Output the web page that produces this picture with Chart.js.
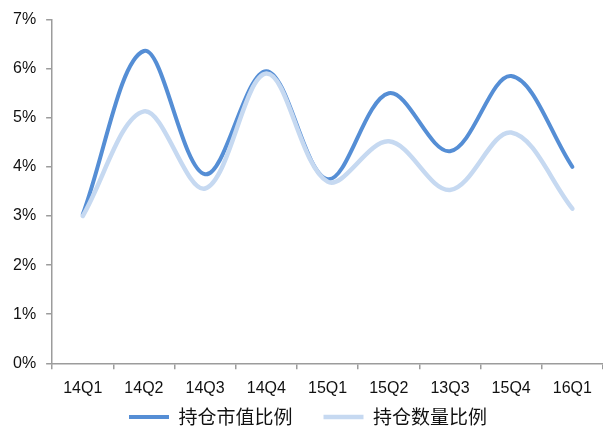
<!DOCTYPE html>
<html>
<head>
<meta charset="utf-8">
<script src="https://cdn.jsdelivr.net/npm/chart.js@4.4.1/dist/chart.umd.min.js"></script>
<style>
  html, body { margin: 0; padding: 0; background: #ffffff; }
  #wrap { width: 603px; height: 430px; position: relative; }
</style>
</head>
<body>
<div id="wrap"><canvas id="c" width="603" height="430"></canvas></div>
<script>
// Quarterly position ratios (%)
const quarters = ['14Q1', '14Q2', '14Q3', '14Q4', '15Q1', '15Q2', '13Q3', '15Q4', '16Q1'];
const marketValueRatio = [3.03, 6.36, 3.85, 5.95, 3.75, 5.50, 4.32, 5.85, 4.00];
const quantityRatio    = [3.00, 5.13, 3.56, 5.90, 3.70, 4.52, 3.53, 4.70, 3.15];
const seriesNames = ['持仓市值比例', '持仓数量比例'];
const yTicks = [0, 1, 2, 3, 4, 5, 6, 7];

const darkBlue = '#558ED5';
const lightBlue = '#C6D9F1';
const axisGrey = '#9C9C9C';

// The legend keeps wide spacing between its two entries; this moves the
// finished legend box up under the axis labels and a little to the right.
const legendNudge = {
  id: 'legendNudge',
  afterLayout(chart) {
    const lg = chart.legend;
    if (!lg) return;
    lg.top -= 32; lg.bottom -= 32;
    lg.left += 5; lg.right += 5;
  }
};

new Chart(document.getElementById('c'), {
  type: 'line',
  data: {
    labels: quarters,
    datasets: [
      {
        label: seriesNames[0],
        data: marketValueRatio,
        borderColor: darkBlue,
        backgroundColor: darkBlue,
        borderWidth: 4,
        pointRadius: 0,
        tension: 0.35,
        borderCapStyle: 'round',
        order: 1
      },
      {
        label: seriesNames[1],
        data: quantityRatio,
        borderColor: lightBlue,
        backgroundColor: lightBlue,
        borderWidth: 4.5,
        pointRadius: 0,
        tension: 0.35,
        borderCapStyle: 'round',
        order: 0
      }
    ]
  },
  plugins: [legendNudge],
  options: {
    responsive: false,
    animation: false,
    layout: { padding: { top: 15.5, left: 3, right: 0, bottom: -38.5 } },
    plugins: {
      tooltip: { enabled: false },
      legend: {
        position: 'bottom',
        labels: {
          boxWidth: 40,
          boxHeight: 0,
          padding: 31,
          color: '#111',
          font: { family: '"Noto Sans CJK SC"', size: 19 },
          sort: (a, b) => a.datasetIndex - b.datasetIndex
        }
      }
    },
    scales: {
      x: {
        offset: true,
        grid: {
          offset: true,
          drawOnChartArea: false,
          tickLength: 6,
          color: axisGrey,
          lineWidth: 1.5
        },
        border: { color: axisGrey, width: 1.5 },
        ticks: {
          color: '#111',
          padding: 10,
          maxRotation: 0,
          autoSkip: false,
          font: { family: '"Liberation Sans", Arial, sans-serif', size: 16 }
        }
      },
      y: {
        min: 0,
        max: 7,
        afterBuildTicks: (axis) => { axis.ticks = yTicks.map(v => ({ value: v })); },
        grid: {
          drawOnChartArea: false,
          tickLength: 6,
          color: axisGrey,
          lineWidth: 1.5
        },
        border: { color: axisGrey, width: 1.5 },
        ticks: {
          color: '#111',
          padding: 10,
          callback: (v) => v + '%',
          font: { family: '"Liberation Sans", Arial, sans-serif', size: 16 }
        }
      }
    }
  }
});
</script>
</body>
</html>
